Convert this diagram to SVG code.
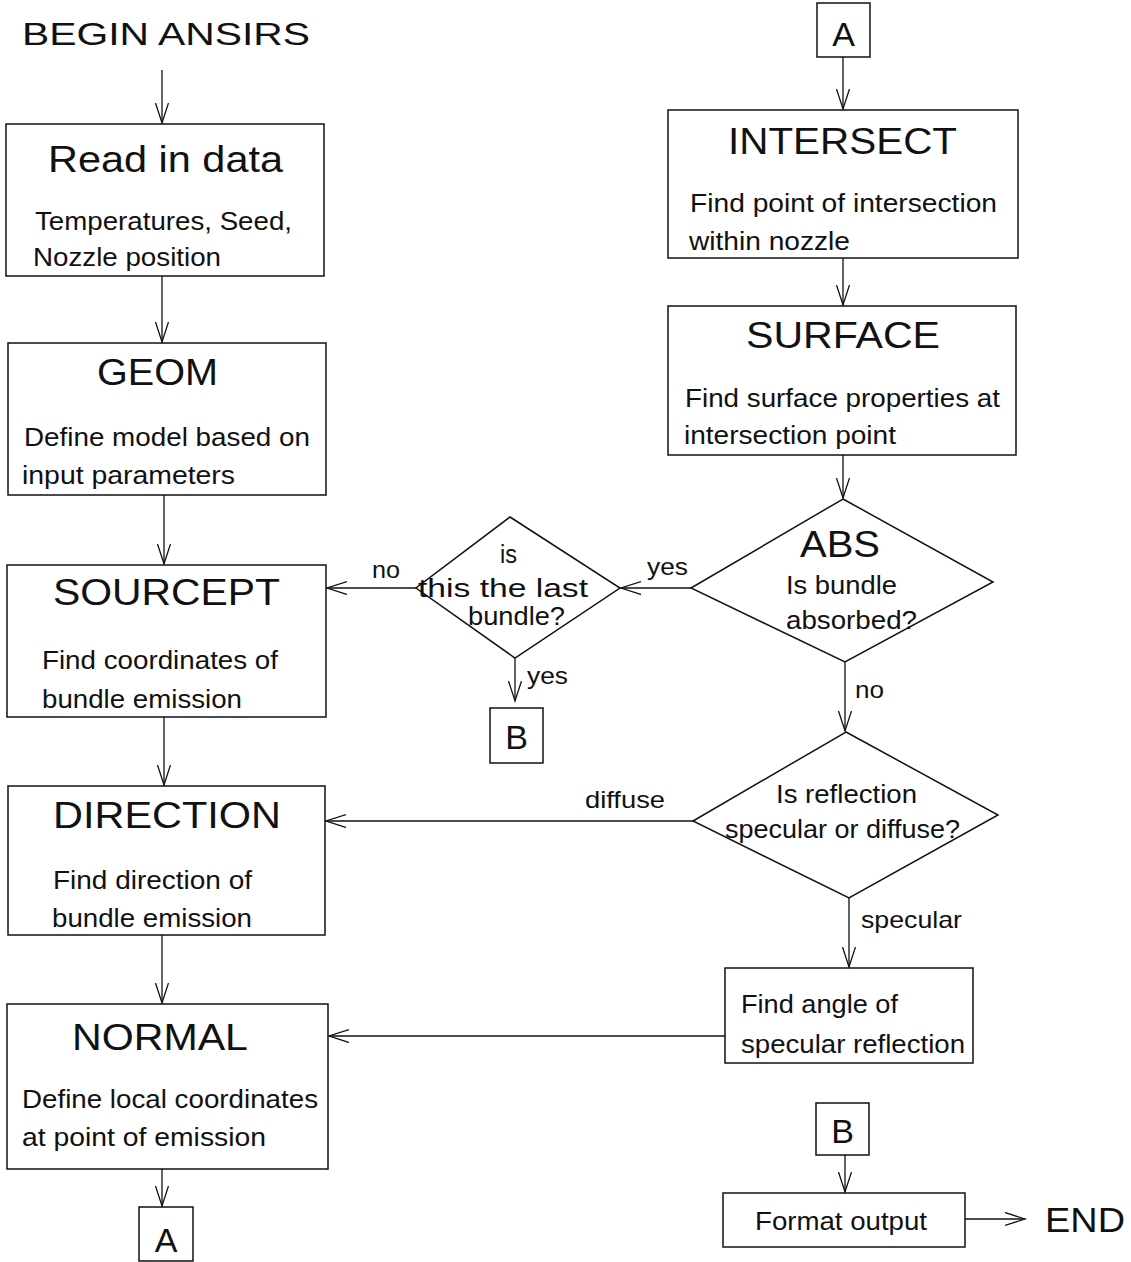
<svg xmlns="http://www.w3.org/2000/svg" width="1131" height="1262" viewBox="0 0 1131 1262">
<style>
.box{fill:#fff;stroke:#111;stroke-width:1.5}
.ln{fill:none;stroke:#111;stroke-width:1.3}
text{font-family:"Liberation Sans",Arial,sans-serif;fill:#111}
.t{font-size:37px}
.b{font-size:25px}
.s{font-size:24px}
</style>
<defs>
<marker id="ah" markerUnits="userSpaceOnUse" markerWidth="24" markerHeight="16" refX="20" refY="7" orient="auto">
<path d="M0,0.5 L20,7 L0,13.5" fill="none" stroke="#111" stroke-width="1.3"/>
</marker>
</defs>
<rect width="1131" height="1262" fill="#fff"/>

<g id="begin"><text x="22" y="45" font-size="32" textLength="288" lengthAdjust="spacingAndGlyphs">BEGIN ANSIRS</text></g>

<g id="read">
<rect class="box" x="6" y="124" width="318" height="152"/>
<text class="t" x="48" y="172" textLength="235" lengthAdjust="spacingAndGlyphs">Read in data</text>
<text class="b" x="35" y="230" textLength="257" lengthAdjust="spacingAndGlyphs">Temperatures, Seed,</text>
<text class="b" x="33" y="266" textLength="188" lengthAdjust="spacingAndGlyphs">Nozzle position</text>
</g>

<g id="geom">
<rect class="box" x="8" y="343" width="318" height="152"/>
<text class="t" x="97" y="385" textLength="121" lengthAdjust="spacingAndGlyphs">GEOM</text>
<text class="b" x="24" y="446" textLength="286" lengthAdjust="spacingAndGlyphs">Define model based on</text>
<text class="b" x="22" y="484" textLength="213" lengthAdjust="spacingAndGlyphs">input parameters</text>
</g>

<g id="sourcept">
<rect class="box" x="7" y="565" width="319" height="152"/>
<text class="t" x="53" y="605" textLength="227" lengthAdjust="spacingAndGlyphs">SOURCEPT</text>
<text class="b" x="42" y="669" textLength="236" lengthAdjust="spacingAndGlyphs">Find coordinates of</text>
<text class="b" x="42" y="708" textLength="200" lengthAdjust="spacingAndGlyphs">bundle emission</text>
</g>

<g id="direction">
<rect class="box" x="8" y="786" width="317" height="149"/>
<text class="t" x="53" y="828" textLength="228" lengthAdjust="spacingAndGlyphs">DIRECTION</text>
<text class="b" x="53" y="889" textLength="199" lengthAdjust="spacingAndGlyphs">Find direction of</text>
<text class="b" x="52" y="927" textLength="200" lengthAdjust="spacingAndGlyphs">bundle emission</text>
</g>

<g id="normal">
<rect class="box" x="7" y="1004" width="321" height="165"/>
<text class="t" x="72" y="1050" textLength="176" lengthAdjust="spacingAndGlyphs">NORMAL</text>
<text class="b" x="22" y="1108" textLength="296" lengthAdjust="spacingAndGlyphs">Define local coordinates</text>
<text class="b" x="22" y="1146" textLength="244" lengthAdjust="spacingAndGlyphs">at point of emission</text>
</g>

<g id="connA-bottom">
<rect class="box" x="139" y="1207" width="54" height="54"/>
<text x="166" y="1252" font-size="34" text-anchor="middle">A</text>
</g>

<g id="connA-top">
<rect class="box" x="817" y="3" width="53" height="54"/>
<text x="843.5" y="46" font-size="34" text-anchor="middle">A</text>
</g>

<g id="intersect">
<rect class="box" x="668" y="110" width="350" height="148"/>
<text class="t" x="728" y="154" textLength="229" lengthAdjust="spacingAndGlyphs">INTERSECT</text>
<text class="b" x="690" y="212" textLength="307" lengthAdjust="spacingAndGlyphs">Find point of intersection</text>
<text class="b" x="689" y="250" textLength="161" lengthAdjust="spacingAndGlyphs">within nozzle</text>
</g>

<g id="surface">
<rect class="box" x="668" y="306" width="348" height="149"/>
<text class="t" x="746" y="348" textLength="194" lengthAdjust="spacingAndGlyphs">SURFACE</text>
<text class="b" x="685" y="407" textLength="315" lengthAdjust="spacingAndGlyphs">Find surface properties at</text>
<text class="b" x="684" y="444" textLength="212" lengthAdjust="spacingAndGlyphs">intersection point</text>
</g>

<g id="abs">
<polygon class="box" points="843,499 993,582 845,662 691,588"/>
<text class="t" x="800" y="557" textLength="80" lengthAdjust="spacingAndGlyphs">ABS</text>
<text class="b" x="786" y="594" textLength="111" lengthAdjust="spacingAndGlyphs">Is bundle</text>
<text class="b" x="786" y="629" textLength="131" lengthAdjust="spacingAndGlyphs">absorbed?</text>
</g>

<g id="last">
<polygon class="box" points="510,517 620,588 515,658 416,588"/>
<text class="b" x="500" y="563" textLength="17" lengthAdjust="spacingAndGlyphs">is</text>
<text class="b" x="418" y="597" textLength="170" lengthAdjust="spacingAndGlyphs">this the last</text>
<text class="b" x="468" y="625" textLength="97" lengthAdjust="spacingAndGlyphs">bundle?</text>
</g>

<g id="connB-mid">
<rect class="box" x="490" y="708" width="53" height="55"/>
<text x="516.5" y="749" font-size="34" text-anchor="middle">B</text>
</g>

<g id="reflection">
<polygon class="box" points="846,732 998,815 849,898 693,821"/>
<text class="b" x="776" y="803" textLength="141" lengthAdjust="spacingAndGlyphs">Is reflection</text>
<text class="b" x="725" y="838" textLength="235" lengthAdjust="spacingAndGlyphs">specular or diffuse?</text>
</g>

<g id="angle">
<rect class="box" x="725" y="968" width="248" height="95"/>
<text class="b" x="741" y="1013" textLength="157" lengthAdjust="spacingAndGlyphs">Find angle of</text>
<text class="b" x="741" y="1053" textLength="224" lengthAdjust="spacingAndGlyphs">specular reflection</text>
</g>

<g id="connB-bottom">
<rect class="box" x="816" y="1103" width="53" height="52"/>
<text x="842.5" y="1143" font-size="34" text-anchor="middle">B</text>
</g>

<g id="format">
<rect class="box" x="723" y="1193" width="242" height="54"/>
<text class="b" x="755" y="1230" textLength="172" lengthAdjust="spacingAndGlyphs">Format output</text>
</g>

<g id="end"><text x="1045" y="1232" font-size="35" textLength="80" lengthAdjust="spacingAndGlyphs">END</text></g>

<g id="connectors">
<line class="ln" x1="162" y1="70" x2="162" y2="123" marker-end="url(#ah)"/>
<line class="ln" x1="162" y1="276" x2="162" y2="342" marker-end="url(#ah)"/>
<line class="ln" x1="164" y1="495" x2="164" y2="564" marker-end="url(#ah)"/>
<line class="ln" x1="164" y1="717" x2="164" y2="785" marker-end="url(#ah)"/>
<line class="ln" x1="162" y1="935" x2="162" y2="1003" marker-end="url(#ah)"/>
<line class="ln" x1="162" y1="1169" x2="162" y2="1206" marker-end="url(#ah)"/>
<line class="ln" x1="843" y1="57" x2="843" y2="109" marker-end="url(#ah)"/>
<line class="ln" x1="843" y1="258" x2="843" y2="305" marker-end="url(#ah)"/>
<line class="ln" x1="843" y1="455" x2="843" y2="498" marker-end="url(#ah)"/>
<line class="ln" x1="691" y1="588" x2="621" y2="588" marker-end="url(#ah)"/>
<text class="s" x="647" y="575" textLength="41" lengthAdjust="spacingAndGlyphs">yes</text>
<line class="ln" x1="416" y1="588" x2="327" y2="588" marker-end="url(#ah)"/>
<text class="s" x="372" y="578" textLength="28" lengthAdjust="spacingAndGlyphs">no</text>
<line class="ln" x1="515" y1="658" x2="515" y2="701" marker-end="url(#ah)"/>
<text class="s" x="527" y="684" textLength="41" lengthAdjust="spacingAndGlyphs">yes</text>
<line class="ln" x1="845" y1="662" x2="845" y2="731" marker-end="url(#ah)"/>
<text class="s" x="855" y="698" textLength="29" lengthAdjust="spacingAndGlyphs">no</text>
<line class="ln" x1="693" y1="821" x2="326" y2="821" marker-end="url(#ah)"/>
<text class="s" x="585" y="808" textLength="80" lengthAdjust="spacingAndGlyphs">diffuse</text>
<line class="ln" x1="849" y1="898" x2="849" y2="967" marker-end="url(#ah)"/>
<text class="s" x="861" y="928" textLength="101" lengthAdjust="spacingAndGlyphs">specular</text>
<line class="ln" x1="725" y1="1036" x2="329" y2="1036" marker-end="url(#ah)"/>
<line class="ln" x1="845" y1="1155" x2="845" y2="1192" marker-end="url(#ah)"/>
<line class="ln" x1="965" y1="1219" x2="1025" y2="1219" marker-end="url(#ah)"/>
</g>
</svg>
